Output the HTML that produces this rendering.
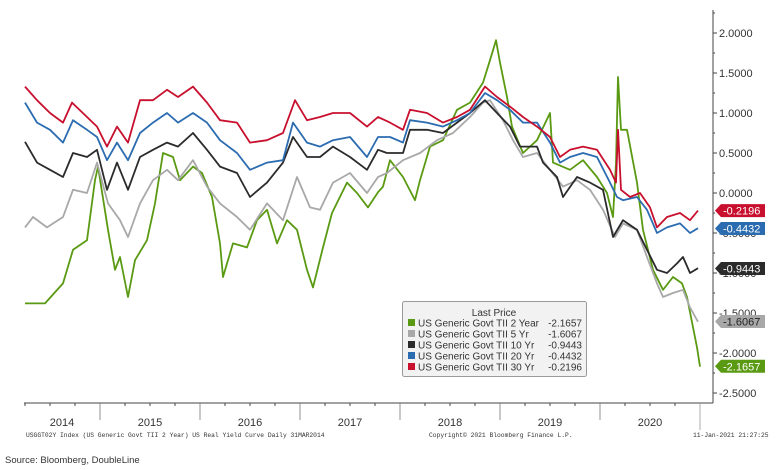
<!DOCTYPE html>
<html><head><meta charset="utf-8">
<style>
body{margin:0;background:#fff;}
svg{display:block;font-family:"Liberation Sans",sans-serif;}
</style></head>
<body>
<svg id="chart" width="780" height="470" viewBox="0 0 780 470" xmlns="http://www.w3.org/2000/svg">
<g id="grid"></g>
<g id="series"></g>
<g id="axes"></g>
<g id="labels"></g>
<g>
  <rect x="402.5" y="301.5" width="184" height="75" rx="2" fill="#f2f2f2" stroke="#9a9a9a"/>
  <text x="494" y="316" font-size="10" text-anchor="middle" fill="#333">Last Price</text>
  <g id="legend-rows" font-size="10" fill="#333"></g>
</g>
<text x="26" y="437" font-size="6.3" font-family="Liberation Mono, monospace" fill="#333">USGGT02Y Index (US Generic Govt TII 2 Year) US Real Yield Curve  Daily 31MAR2014</text>
<text x="429" y="437" font-size="6.3" font-family="Liberation Mono, monospace" fill="#333">Copyright© 2021 Bloomberg Finance L.P.</text>
<text x="693" y="437" font-size="6.3" font-family="Liberation Mono, monospace" fill="#333">11-Jan-2021 21:27:25</text>
<text x="5" y="463" font-size="9.5" fill="#333">Source: Bloomberg, DoubleLine</text>
</svg>
<script>
const yTicks=[2.0,1.5,1.0,0.5,0.0,-0.5,-1.0,-1.5,-2.0,-2.5];
const yearLabels=["2014","2015","2016","2017","2018","2019","2020"];
const seriesNames=["US Generic Govt TII 2 Year","US Generic Govt TII 5 Yr","US Generic Govt TII 10 Yr","US Generic Govt TII 20 Yr","US Generic Govt TII 30 Yr"];
const lastValues=["-2.1657","-1.6067","-0.9443","-0.4432","-0.2196"];
const d2y=[2014.25,2014.45,2014.63,2014.73,2014.87,2014.95,2014.98,2015.08,2015.15,2015.20,2015.28,2015.35,2015.47,2015.55,2015.63,2015.73,2015.80,2015.93,2016.02,2016.12,2016.20,2016.23,2016.33,2016.47,2016.57,2016.67,2016.77,2016.87,2016.97,2017.07,2017.13,2017.23,2017.32,2017.47,2017.57,2017.68,2017.78,2017.83,2017.90,2018.03,2018.15,2018.20,2018.30,2018.43,2018.57,2018.70,2018.83,2018.90,2018.96,2019.00,2019.07,2019.12,2019.23,2019.37,2019.50,2019.53,2019.70,2019.83,2019.97,2020.07,2020.13,2020.16,2020.18,2020.21,2020.27,2020.37,2020.43,2020.53,2020.63,2020.73,2020.82,2020.87,2020.97,2021.00];
const v2y=[-1.38,-1.38,-1.13,-0.71,-0.59,0.16,0.33,-0.46,-0.96,-0.80,-1.30,-0.84,-0.59,-0.13,0.50,0.45,0.16,0.33,0.25,-0.05,-0.63,-1.05,-0.63,-0.68,-0.34,-0.21,-0.63,-0.34,-0.46,-0.96,-1.18,-0.68,-0.25,0.13,0.00,-0.18,0.01,0.08,0.41,0.20,-0.09,0.16,0.58,0.66,1.04,1.13,1.38,1.66,1.91,1.63,1.20,0.83,0.50,0.66,1.00,0.38,0.29,0.41,0.20,0.00,-0.30,0.38,1.45,0.79,0.79,0.13,-0.46,-0.96,-1.21,-1.05,-1.13,-1.30,-1.93,-2.17];
const d5y=[2014.25,2014.33,2014.47,2014.63,2014.73,2014.87,2014.97,2015.08,2015.20,2015.28,2015.40,2015.53,2015.67,2015.78,2015.93,2016.07,2016.20,2016.37,2016.50,2016.67,2016.83,2016.97,2017.10,2017.20,2017.33,2017.50,2017.67,2017.78,2017.87,2018.03,2018.20,2018.37,2018.53,2018.70,2018.83,2018.90,2019.03,2019.13,2019.23,2019.37,2019.50,2019.63,2019.77,2019.90,2020.03,2020.15,2020.23,2020.37,2020.47,2020.57,2020.63,2020.73,2020.83,2020.90,2020.98];
const v5y=[-0.43,-0.30,-0.43,-0.30,0.04,0.00,0.38,-0.13,-0.34,-0.55,-0.13,0.16,0.29,0.16,0.41,0.08,-0.13,-0.30,-0.46,-0.13,-0.34,0.20,-0.18,-0.21,0.13,0.25,0.00,0.20,0.25,0.41,0.50,0.66,0.75,0.95,1.13,1.16,0.91,0.66,0.45,0.50,0.29,0.08,0.16,0.04,-0.21,-0.55,-0.38,-0.46,-0.80,-1.13,-1.30,-1.25,-1.21,-1.43,-1.61];
const d10y=[2014.25,2014.37,2014.50,2014.63,2014.73,2014.87,2014.97,2015.07,2015.17,2015.28,2015.40,2015.53,2015.67,2015.78,2015.93,2016.07,2016.20,2016.37,2016.50,2016.67,2016.83,2016.93,2017.07,2017.20,2017.33,2017.50,2017.67,2017.78,2017.87,2018.03,2018.10,2018.27,2018.43,2018.57,2018.70,2018.85,2018.97,2019.10,2019.20,2019.37,2019.43,2019.57,2019.63,2019.77,2019.90,2020.03,2020.13,2020.23,2020.37,2020.47,2020.57,2020.67,2020.77,2020.83,2020.90,2020.98];
const v10y=[0.64,0.38,0.29,0.20,0.50,0.45,0.54,0.04,0.38,0.04,0.45,0.54,0.63,0.58,0.75,0.54,0.33,0.25,-0.05,0.13,0.38,0.70,0.45,0.45,0.58,0.45,0.29,0.54,0.50,0.50,0.79,0.79,0.75,0.88,1.00,1.16,1.00,0.83,0.58,0.58,0.38,0.20,-0.05,0.20,0.13,0.04,-0.55,-0.34,-0.46,-0.71,-0.96,-1.00,-0.88,-0.80,-1.00,-0.94];
const d20y=[2014.25,2014.37,2014.50,2014.63,2014.73,2014.87,2014.97,2015.07,2015.17,2015.28,2015.40,2015.53,2015.67,2015.78,2015.93,2016.07,2016.20,2016.37,2016.50,2016.67,2016.83,2016.93,2017.07,2017.20,2017.33,2017.50,2017.67,2017.78,2017.90,2018.03,2018.10,2018.27,2018.43,2018.57,2018.70,2018.85,2018.97,2019.10,2019.23,2019.37,2019.50,2019.60,2019.70,2019.83,2019.97,2020.10,2020.17,2020.23,2020.37,2020.47,2020.57,2020.67,2020.80,2020.90,2020.98];
const v20y=[1.13,0.88,0.79,0.63,0.91,0.79,0.70,0.41,0.63,0.41,0.75,0.88,1.00,0.88,1.00,0.88,0.66,0.50,0.29,0.38,0.41,0.88,0.63,0.58,0.66,0.70,0.45,0.70,0.70,0.63,0.91,0.88,0.83,0.91,1.00,1.25,1.16,1.04,0.88,0.88,0.63,0.38,0.45,0.50,0.45,0.13,-0.05,-0.09,-0.05,-0.21,-0.50,-0.43,-0.38,-0.50,-0.44];
const d30y=[2014.25,2014.37,2014.50,2014.63,2014.72,2014.87,2014.97,2015.07,2015.17,2015.28,2015.40,2015.53,2015.67,2015.78,2015.93,2016.07,2016.20,2016.37,2016.50,2016.67,2016.83,2016.95,2017.07,2017.20,2017.33,2017.50,2017.67,2017.78,2017.90,2018.03,2018.10,2018.27,2018.43,2018.57,2018.70,2018.85,2018.97,2019.10,2019.23,2019.37,2019.50,2019.60,2019.70,2019.83,2019.97,2020.10,2020.16,2020.18,2020.21,2020.30,2020.40,2020.50,2020.57,2020.67,2020.80,2020.90,2020.98];
const v30y=[1.33,1.16,1.00,0.88,1.13,0.95,0.83,0.58,0.83,0.63,1.16,1.16,1.29,1.20,1.33,1.13,0.91,0.88,0.63,0.66,0.75,1.16,0.91,0.95,1.00,1.00,0.83,0.95,0.88,0.79,1.04,1.00,0.88,0.95,1.04,1.33,1.20,1.08,0.95,0.83,0.70,0.45,0.54,0.58,0.54,0.29,0.13,0.79,0.04,-0.05,0.00,-0.18,-0.43,-0.30,-0.25,-0.34,-0.22];

const colors=["#5a9a12","#a8a8a8","#2b2b2b","#2b6cb0","#c8102e"];
const NS="http://www.w3.org/2000/svg";
const X0=24,X1=713,YB=403;
function xs(t){return 100+(t-2015)*100;}
function ys(v){return 193-80*v;}
function mk(tag,attrs,parent){const e=document.createElementNS(NS,tag);for(const k in attrs)e.setAttribute(k,attrs[k]);parent.appendChild(e);return e;}

const axes=document.getElementById('axes');
const ax=mk('line',{x1:X1,y1:10,x2:X1,y2:YB,stroke:'#444','stroke-width':1},axes);


const bx=mk('line',{x1:X0,y1:YB,x2:X1,y2:YB,stroke:'#444','stroke-width':1},axes);


for(let v=2.25;v>=-2.75;v-=0.25){
  const y=ys(v);
  if(y<10||y>YB)continue;
  mk('line',{x1:X1,y1:y,x2:X1+(Math.abs(v*2-Math.round(v*2))<1e-6?4:2),y2:y,stroke:'#444'},axes);
}
yTicks.forEach(v=>{
  const t=mk('text',{x:X1+6,y:ys(v)+4,'font-size':11,fill:'#333'},axes);
  t.textContent=v.toFixed(4);
  
  
});
for(let q=2014.25;q<2021.01;q+=0.25){
  const x=xs(q);
  if(Math.abs(q-Math.round(q))<1e-6){
    mk('line',{x1:x,y1:YB,x2:x,y2:q===2021?430:420,stroke:q===2021?'#999':'#777','stroke-width':0.8},axes);
  }else{
    mk('line',{x1:x,y1:YB,x2:x,y2:YB+3,stroke:'#444'},axes);
  }
}
yearLabels.forEach((s,i)=>{
  const yr=+s;
  const cx=yr===2014?62:xs(yr+0.5);
  const t=mk('text',{x:cx,y:426,'font-size':11,'text-anchor':'middle',fill:'#333'},axes);
  t.textContent=s;
  
  
});

const dates=[d2y,d5y,d10y,d20y,d30y];
const vals=[v2y,v5y,v10y,v20y,v30y];
const names=["series-2yr","series-5yr","series-10yr","series-20yr","series-30yr"];
const sg=document.getElementById('series');
for(let s=0;s<5;s++){
  let d='';
  dates[s].forEach((t,i)=>{d+=(i?'L':'M')+xs(t).toFixed(1)+','+ys(vals[s][i]).toFixed(1);});
  const p=mk('path',{d:d,fill:'none',stroke:colors[s],'stroke-width':1.8,'stroke-linejoin':'round'},sg);
  
  
}

const lg=document.getElementById('labels');
const textCols=["#fff","#222","#fff","#fff","#fff"];
for(let s=0;s<5;s++){
  const y=ys(parseFloat(lastValues[s]));
  const g=mk('g',{},lg);
  
  
  mk('path',{d:`M${X1+2},${y} L${X1+8},${y-6.5} L${X1+52},${y-6.5} L${X1+52},${y+6.5} L${X1+8},${y+6.5} Z`,fill:colors[s]},g);
  const t=mk('text',{x:X1+10,y:y+4,'font-size':11,fill:textCols[s]},g);
  t.textContent=lastValues[s];
}

const lr=document.getElementById('legend-rows');
for(let s=0;s<5;s++){
  const y=323+s*11;
  const g=mk('g',{},lr);
  
  
  mk('rect',{x:408,y:y-4,width:7,height:7,fill:colors[s]},g);
  const t=mk('text',{x:418,y:y+3.5},g);
  t.textContent=seriesNames[s];
  const v=mk('text',{x:582,y:y+3.5,'text-anchor':'end'},g);
  v.textContent=lastValues[s];
}
</script>
</body></html>
